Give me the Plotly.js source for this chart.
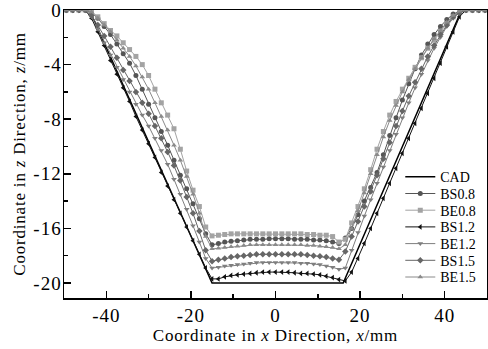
<!DOCTYPE html>
<html>
<head>
<meta charset="utf-8">
<script src="https://cdn.plot.ly/plotly-3.0.1.min.js"></script>
<style>
html,body{margin:0;padding:0;background:#fff;}
#chart{width:488px;height:349px;}
#chart .xtitle, #chart .ytitle {letter-spacing: 0.8px;}
#chart .xtick text, #chart .ytick text {letter-spacing: 1px;}
</style>
</head>
<body>
<div id="chart"></div>
<script>
// shared x positions (mm)
const X = [-49.5,-48,-46.5,-45,-43.5,-42,-40.5,-39,-37.5,-36,-34.5,-33,-31.5,-30,-28.5,-27,-25.5,-24,-22.5,-21,-19.5,-18,-16.5,-15,-13.5,-12,-10.5,-9,-7.5,-6,-4.5,-3,-1.5,0,1.5,3,4.5,6,7.5,9,10.5,12,13.5,15,16.5,18,19.5,21,22.5,24,25.5,27,28.5,30,31.5,33,34.5,36,37.5,39,40.5,42,43.5,45,46.5,48,49.5];

const cadX = [-50,-44,-15,16,44,50];
const cadZ = [0,0,-20,-20,0,0];

const BS08 = [0,0,0,0,-0.2,-0.6,-1.2,-1.8,-2.5,-3.2,-3.9,-4.8,-5.8,-6.9,-7.9,-8.9,-9.9,-11.0,-12.1,-13.1,-14.2,-15.3,-16.4,-17.2,-17.1,-17.0,-16.95,-16.9,-16.85,-16.8,-16.8,-16.8,-16.75,-16.75,-16.75,-16.75,-16.8,-16.8,-16.8,-16.85,-16.85,-16.9,-17.0,-17.1,-16.7,-16.0,-15.0,-14.0,-13.0,-11.9,-10.6,-9.2,-7.9,-6.6,-5.4,-4.3,-3.3,-2.5,-1.8,-1.2,-0.7,-0.3,-0.1,0,0,0,0];

const BE08 = [0,0,0,0,-0.1,-0.5,-1.0,-1.5,-1.9,-2.4,-2.9,-3.4,-4.0,-4.8,-5.8,-6.8,-7.7,-8.7,-10.2,-11.8,-13.2,-14.4,-15.9,-16.55,-16.5,-16.45,-16.4,-16.4,-16.4,-16.4,-16.4,-16.4,-16.4,-16.4,-16.4,-16.4,-16.4,-16.4,-16.45,-16.45,-16.5,-16.5,-16.6,-17.0,-16.8,-15.6,-14.4,-13.1,-11.7,-10.2,-8.9,-7.7,-6.7,-5.8,-5.0,-4.2,-3.5,-2.8,-2.2,-1.6,-1.0,-0.5,-0.1,0,0,0,0];

const BS12 = [0,0,0,0,-0.6,-1.6,-2.6,-3.7,-4.7,-5.7,-6.7,-7.8,-8.8,-9.8,-10.8,-11.9,-12.9,-13.9,-14.9,-15.9,-16.9,-17.9,-18.9,-19.7,-19.7,-19.55,-19.45,-19.4,-19.35,-19.3,-19.25,-19.2,-19.2,-19.2,-19.2,-19.2,-19.25,-19.3,-19.3,-19.35,-19.4,-19.5,-19.6,-19.75,-19.85,-19.2,-18.2,-17.1,-16.0,-14.9,-13.8,-12.7,-11.6,-10.5,-9.4,-8.3,-7.2,-6.1,-5.0,-3.9,-2.7,-1.6,-0.5,0,0,0,0];

const BE12 = [0,0,0,0,-0.5,-1.4,-2.4,-3.3,-4.2,-5.1,-6.0,-6.9,-7.7,-8.5,-9.4,-10.3,-11.3,-12.4,-13.5,-14.6,-15.8,-17.0,-18.2,-18.9,-18.85,-18.75,-18.7,-18.65,-18.6,-18.55,-18.5,-18.5,-18.5,-18.5,-18.5,-18.5,-18.5,-18.55,-18.55,-18.6,-18.65,-18.75,-18.85,-19.0,-18.9,-17.6,-16.3,-15.1,-13.9,-12.7,-11.5,-10.3,-9.1,-7.9,-6.8,-5.7,-4.7,-3.7,-2.8,-2.0,-1.2,-0.6,-0.2,0,0,0,0];

const BS15 = [0,0,0,0,-0.4,-1.1,-1.9,-2.7,-3.5,-4.4,-5.2,-6.0,-6.8,-7.6,-8.5,-9.4,-10.4,-11.4,-12.5,-13.7,-14.9,-16.2,-17.6,-18.4,-18.3,-18.2,-18.1,-18.05,-18.0,-17.95,-17.9,-17.9,-17.9,-17.9,-17.9,-17.9,-17.9,-17.9,-17.95,-18.0,-18.05,-18.1,-18.2,-18.3,-17.7,-16.6,-15.5,-14.4,-13.3,-12.1,-10.9,-9.7,-8.5,-7.4,-6.3,-5.3,-4.3,-3.4,-2.6,-1.8,-1.1,-0.5,-0.2,0,0,0,0];

const BE15 = [0,0,0,0,-0.15,-0.6,-1.1,-1.6,-2.2,-2.8,-3.4,-4.1,-4.9,-5.8,-6.8,-7.8,-8.8,-9.9,-11.0,-12.2,-13.5,-14.9,-16.6,-17.5,-17.45,-17.4,-17.35,-17.3,-17.25,-17.2,-17.2,-17.2,-17.2,-17.2,-17.2,-17.2,-17.2,-17.2,-17.25,-17.25,-17.3,-17.35,-17.4,-17.5,-17.2,-16.0,-14.7,-13.4,-12.0,-10.6,-9.3,-8.1,-7.0,-6.0,-5.1,-4.3,-3.5,-2.8,-2.1,-1.5,-0.9,-0.4,-0.1,0,0,0,0];

const names = ['CAD','BS0.8','BE0.8','BS1.2','BE1.2','BS1.5','BE1.5'];
const xTicks = [-40,-20,0,20,40];
const xTickText = ['-40','-20','0','20','40'];
const yTicks = [0,-4,-8,-12,-16,-20];
const yTickText = ['0','-4','-8','-12','-16','-20'];

function ser(name, z, color, symbol, size) {
  return {x: X, y: z, name: name, type: 'scatter', mode: 'lines+markers',
    line: {color: color, width: 1},
    marker: {symbol: symbol, size: size, color: color, line: {width: 0}},
    cliponaxis: true};
}

const data = [
  {x: cadX, y: cadZ, name: names[0], type: 'scatter', mode: 'lines', line: {color: '#000', width: 1.5}},
  ser(names[1], BS08, '#555555', 'circle', 5),
  ser(names[2], BE08, '#a3a3a3', 'square', 5),
  ser(names[3], BS12, '#111111', 'triangle-left', 5),
  ser(names[4], BE12, '#7e7e7e', 'triangle-down', 5),
  ser(names[5], BS15, '#666666', 'diamond', 5),
  ser(names[6], BE15, '#8a8a8a', 'triangle-up', 5)
];

const font = '"Liberation Serif", serif';
const layout = {
  width: 488, height: 349,
  margin: {l: 64, r: 1, t: 10, b: 51},
  paper_bgcolor: '#fff', plot_bgcolor: '#fff',
  font: {family: font, color: '#000', size: 16},
  showlegend: true,
  legend: {x: 0.795, xanchor: 'left', y: 0.475, yanchor: 'top',
    bgcolor: 'rgba(0,0,0,0)', font: {family: font, size: 14, color: '#000'},
    tracegroupgap: 0, itemwidth: 30},
  xaxis: {range: [-50, 50], tickmode: 'array', tickvals: xTicks, ticktext: xTickText,
    ticks: 'inside', ticklen: 7, tickwidth: 1.5, tickcolor: '#000',
    minor: {tickmode: 'array', tickvals: [-30,-10,10,30], ticks: 'inside', ticklen: 4, tickwidth: 1.5, tickcolor: '#000'},
    showline: true, linecolor: '#000', linewidth: 1.5, mirror: true,
    showgrid: false, zeroline: false,
    tickfont: {family: font, size: 19},
    ticklabeloverflow: 'allow',
    title: {text: 'Coordinate in <i>x</i> Direction, <i>x</i>/mm', font: {family: font, size: 17}, standoff: 4}},
  yaxis: {range: [-21.1, 0], tickmode: 'array', tickvals: yTicks, ticktext: yTickText,
    ticks: 'inside', ticklen: 7, tickwidth: 1.5, tickcolor: '#000',
    minor: {tickmode: 'array', tickvals: [-2,-6,-10,-14,-18], ticks: 'inside', ticklen: 4, tickwidth: 1.5, tickcolor: '#000'},
    showline: true, linecolor: '#000', linewidth: 1.5, mirror: true,
    showgrid: false, zeroline: false,
    tickfont: {family: font, size: 19},
    ticklabelstandoff: -3,
    ticklabeloverflow: 'allow',
    title: {text: 'Coordinate in <i>z</i> Direction, <i>z</i>/mm', font: {family: font, size: 17}, standoff: 6}}
};

Plotly.newPlot('chart', data, layout, {displayModeBar: false, staticPlot: true}).then(function (gd) {
  // tighten legend row spacing to match the reference (~16.7 px per row)
  const rows = gd.querySelectorAll('.legend .traces');
  const spacing = 16.7;
  let y0 = null;
  rows.forEach(function (r, i) {
    const t = r.getAttribute('transform') || '';
    const m = t.match(/translate\(\s*([-\d.]+)[ ,]+([-\d.]+)\s*\)/);
    if (!m) return;
    if (y0 === null) y0 = parseFloat(m[2]);
    r.setAttribute('transform', 'translate(' + m[1] + ',' + (y0 + i * spacing) + ')');
  });
});
</script>
</body>
</html>
